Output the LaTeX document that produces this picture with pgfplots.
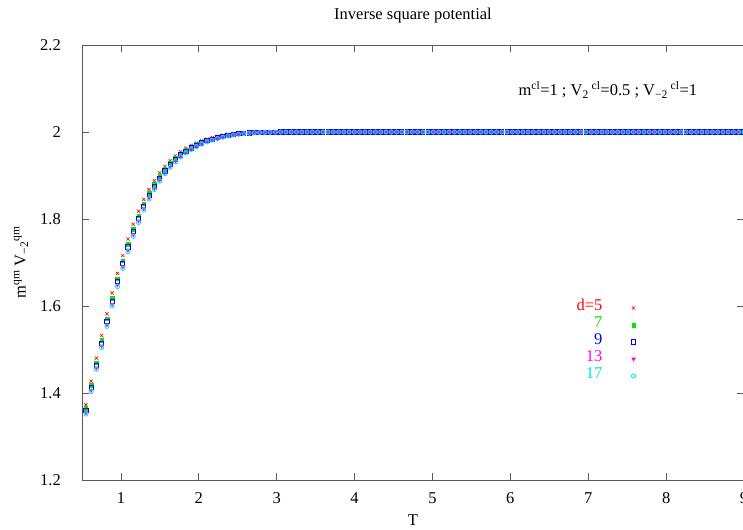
\documentclass[border=0pt]{standalone}
\usepackage{pgfplots}
\pgfplotsset{compat=1.18}
\usepackage{pgfplotstable}
\usepackage{fontspec}
\setmainfont{Liberation Serif}
\definecolor{gpred}{RGB}{255,0,0}
\definecolor{gpgreen}{RGB}{0,230,0}
\definecolor{gpblue}{RGB}{0,0,255}
\definecolor{gpmag}{RGB}{255,0,255}
\definecolor{gpcyan}{RGB}{0,230,230}
\definecolor{axgray}{RGB}{90,90,90}
\pgfplotstableread{
T d5 d7 d9 d13 d17
0.5500 1.373 1.3645 1.3596 1.3545 1.3517
0.6176 1.427 1.4176 1.4122 1.4065 1.4035
0.6852 1.480 1.4698 1.4639 1.4577 1.4544
0.7528 1.532 1.5210 1.5146 1.5080 1.5044
0.8204 1.582 1.5704 1.5638 1.5568 1.5531
0.8880 1.630 1.6180 1.6111 1.6039 1.6000
0.9556 1.675 1.6629 1.6559 1.6486 1.6447
1.0232 1.716 1.7042 1.6974 1.6903 1.6864
1.0908 1.754 1.7423 1.7356 1.7286 1.7248
1.1584 1.788 1.7769 1.7705 1.7639 1.7602
1.2260 1.818 1.8076 1.8017 1.7954 1.7921
1.2936 1.845 1.8351 1.8295 1.8236 1.8204
1.3612 1.868 1.8592 1.8541 1.8488 1.8459
1.4288 1.888 1.8799 1.8753 1.8705 1.8678
1.4964 1.906 1.8984 1.8940 1.8895 1.8869
1.5640 1.921 1.9144 1.9106 1.9066 1.9041
1.6316 1.934 1.9280 1.9246 1.9210 1.9188
1.6992 1.945 1.9397 1.9367 1.9335 1.9314
1.7668 1.9545 1.9498 1.9471 1.9441 1.9423
1.8344 1.9625 1.9584 1.9560 1.9533 1.9517
1.9020 1.9690 1.9655 1.9635 1.9612 1.9598
1.9696 1.9745 1.9714 1.9697 1.9677 1.9665
2.0372 1.9795 1.9766 1.9750 1.9731 1.9721
2.1048 1.9835 1.9811 1.9798 1.9781 1.9771
2.1724 1.9870 1.9849 1.9836 1.9822 1.9814
2.2400 1.9900 1.9881 1.9870 1.9857 1.9850
2.3076 1.9925 1.9909 1.9899 1.9888 1.9881
2.3752 1.9945 1.9932 1.9924 1.9914 1.9908
2.4428 1.9960 1.9950 1.9943 1.9935 1.9931
2.5104 1.9970 1.9963 1.9958 1.9952 1.9948
2.5780 1.9980 1.9973 1.9969 1.9964 1.9962
2.6456 1.9987 1.9982 1.9978 1.9974 1.9971
2.7132 1.9992 1.9988 1.9986 1.9982 1.9981
2.7808 1.9995 1.9993 1.9991 1.9988 1.9987
2.8484 1.9997 1.9995 1.9994 1.9993 1.9992
2.9160 1.9999 1.9997 1.9996 1.9995 1.9995
2.9836 2 1.9999 1.9998 1.9997 1.9997
3.0512 2 2 2 1.9999 1.9999
3.1188 2 2 2 2 1.9999
3.1864 2 2 2 2 2
3.2540 2 2 2 2 2
3.3216 2 2 2 2 2
3.3892 2 2 2 2 2
3.4568 2 2 2 2 2
3.5244 2 2 2 2 2
3.5920 2 2 2 2 2
3.6596 2 2 2 2 2
3.7272 2 2 2 2 2
3.7948 2 2 2 2 2
3.8624 2 2 2 2 2
3.9300 2 2 2 2 2
3.9976 2 2 2 2 2
4.0652 2 2 2 2 2
4.1328 2 2 2 2 2
4.2004 2 2 2 2 2
4.2680 2 2 2 2 2
4.3356 2 2 2 2 2
4.4032 2 2 2 2 2
4.4708 2 2 2 2 2
4.5384 2 2 2 2 2
4.6060 2 2 2 2 2
4.6736 2 2 2 2 2
4.7412 2 2 2 2 2
4.8088 2 2 2 2 2
4.8764 2 2 2 2 2
4.9440 2 2 2 2 2
5.0116 2 2 2 2 2
5.0792 2 2 2 2 2
5.1468 2 2 2 2 2
5.2144 2 2 2 2 2
5.2820 2 2 2 2 2
5.3496 2 2 2 2 2
5.4172 2 2 2 2 2
5.4848 2 2 2 2 2
5.5524 2 2 2 2 2
5.6200 2 2 2 2 2
5.6876 2 2 2 2 2
5.7552 2 2 2 2 2
5.8228 2 2 2 2 2
5.8904 2 2 2 2 2
5.9580 2 2 2 2 2
6.0256 2 2 2 2 2
6.0932 2 2 2 2 2
6.1608 2 2 2 2 2
6.2284 2 2 2 2 2
6.2960 2 2 2 2 2
6.3636 2 2 2 2 2
6.4312 2 2 2 2 2
6.4988 2 2 2 2 2
6.5664 2 2 2 2 2
6.6340 2 2 2 2 2
6.7016 2 2 2 2 2
6.7692 2 2 2 2 2
6.8368 2 2 2 2 2
6.9044 2 2 2 2 2
6.9720 2 2 2 2 2
7.0396 2 2 2 2 2
7.1072 2 2 2 2 2
7.1748 2 2 2 2 2
7.2424 2 2 2 2 2
7.3100 2 2 2 2 2
7.3776 2 2 2 2 2
7.4452 2 2 2 2 2
7.5128 2 2 2 2 2
7.5804 2 2 2 2 2
7.6480 2 2 2 2 2
7.7156 2 2 2 2 2
7.7832 2 2 2 2 2
7.8508 2 2 2 2 2
7.9184 2 2 2 2 2
7.9860 2 2 2 2 2
8.0536 2 2 2 2 2
8.1212 2 2 2 2 2
8.1888 2 2 2 2 2
8.2564 2 2 2 2 2
8.3240 2 2 2 2 2
8.3916 2 2 2 2 2
8.4592 2 2 2 2 2
8.5268 2 2 2 2 2
8.5944 2 2 2 2 2
8.6620 2 2 2 2 2
8.7296 2 2 2 2 2
8.7972 2 2 2 2 2
8.8648 2 2 2 2 2
8.9324 2 2 2 2 2
9.0000 2 2 2 2 2
}\datatable
\begin{document}
\fontsize{16.5}{19.8}\selectfont
\begin{tikzpicture}
\begin{axis}[
  scale only axis,
  width=662pt, height=435pt,
  xmin=0.5, xmax=9, ymin=1.2, ymax=2.2,
  xtick={1,2,3,4,5,6,7,8,9},
  ytick={1.2,1.4,1.6,1.8,2,2.2},
  /pgf/number format/assume math mode=true,
  tick align=inside,
  major tick length=7pt,
  axis line style={axgray, line width=0.8pt},
  every tick/.style={axgray, line width=0.8pt},
  xticklabel style={anchor=base, inner sep=0pt, yshift=-23pt},
  yticklabel style={anchor=east, inner sep=0pt, xshift=-21pt},
  title={Inverse square potential},
  title style={at={(axis description cs:0.5,1)}, anchor=base, inner sep=0pt, yshift=19pt},
  xlabel={T},
  every axis x label/.style={at={(axis description cs:0.5,0)}, anchor=base, inner sep=0pt, yshift=-45pt},
  ylabel={m\textsuperscript{qm} V\textsubscript{−2}\textsuperscript{qm}},
  every axis y label/.style={at={(axis description cs:0,0.5)}, rotate=90, anchor=center, inner sep=0pt, yshift=61pt},
  legend plot pos=right,
  legend cell align=right,
  legend style={draw=none, fill=none, at={(axis cs:7.65,1.62)}, anchor=north east,
    column sep=29pt, row sep=0pt,
    nodes={inner sep=0pt, text height=11pt, text depth=6pt}},
]
\addplot[only marks, mark=x, mark size=2.3pt, gpred, line width=0.6pt] table[x=T, y=d5] {\datatable};
\addlegendentry{\textcolor{gpred}{d=5}}
\addplot[only marks, mark=square*, mark size=1.8pt, gpgreen] table[x=T, y=d7] {\datatable};
\addlegendentry{\textcolor{gpgreen}{7}}
\addplot[only marks, mark=square, mark size=2.1pt, gpblue, line width=0.9pt] table[x=T, y=d9] {\datatable};
\addlegendentry{\textcolor{gpblue}{9}}
\addplot[only marks, mark=triangle*, mark size=2.2pt, mark options={rotate=180}, gpmag] table[x=T, y=d13] {\datatable};
\addlegendentry{\textcolor{gpmag}{13}}
\addplot[only marks, mark=o, mark size=2.1pt, gpcyan, line width=0.8pt] table[x=T, y=d17] {\datatable};
\addlegendentry{\textcolor{gpcyan}{17}}
\node[anchor=base east, inner sep=0pt] at (axis cs:8.4,2.083)
  {m\textsuperscript{cl}=1 ; V\textsubscript{2}\,\textsuperscript{cl}=0.5 ; V\textsubscript{−2}\,\textsuperscript{cl}=1};
\coordinate (ll) at (rel axis cs:0,0);
\coordinate (ur) at (rel axis cs:1,1);
\end{axis}
\pgfresetboundingbox
\path[use as bounding box] ([shift={(-82pt,-49pt)}]ll) rectangle ([shift={(-1pt,45pt)}]ur);
\end{tikzpicture}
\end{document}
